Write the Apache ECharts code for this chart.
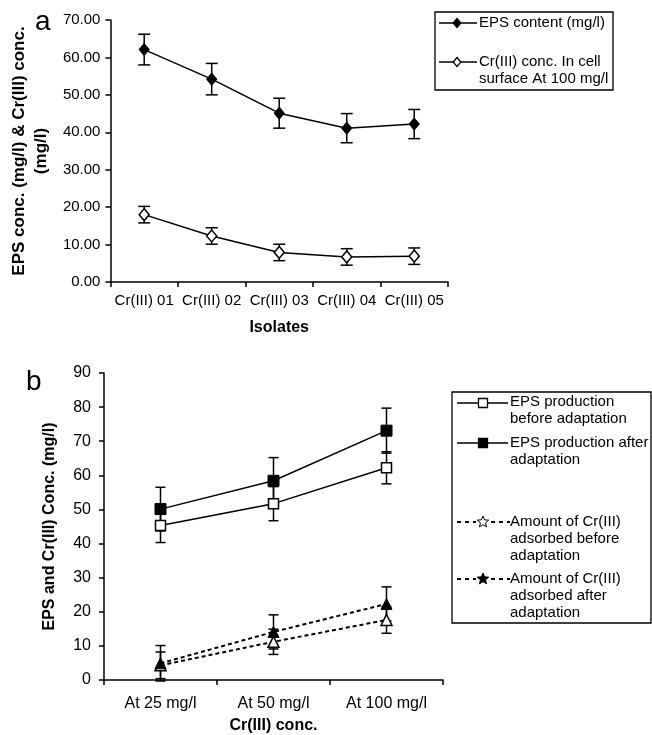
<!DOCTYPE html>
<html>
<head>
<meta charset="utf-8">
<script src="https://cdn.jsdelivr.net/npm/echarts@6/dist/echarts.min.js"></script>
<style>
html,body{margin:0;padding:0;background:#fff;}
#c{width:652px;height:735px;}
</style>
</head>
<body>
<div id="c"></div>
<script>
// ---- Panel a data ----
const isolates = ['Cr(III) 01', 'Cr(III) 02', 'Cr(III) 03', 'Cr(III) 04', 'Cr(III) 05'];
const epsContent = [62.1, 54.2, 45.1, 41.1, 42.2];
const epsContentErr = [4.1, 4.2, 4.0, 3.9, 3.9];
const crSurface = [18.0, 12.3, 7.9, 6.7, 6.9];
const crSurfaceErr = [2.2, 2.2, 2.2, 2.2, 2.2];
const yTicksA = { min: 0, max: 70, interval: 10 };

// ---- Panel b data ----
const concLevels = ['At 25 mg/l', 'At 50 mg/l', 'At 100 mg/l'];
const epsBefore = [45.3, 51.7, 62.2];
const epsBeforeErr = [5.0, 5.0, 4.7];
const epsAfter = [50.1, 58.4, 73.1];
const epsAfterErr = [6.4, 6.8, 6.6];
const crBefore = [4.3, 11.2, 17.6];
const crBeforeErr = [3.9, 3.7, 3.9];
const crAfter = [4.9, 14.1, 22.3];
const crAfterErr = [5.2, 5.0, 5.0];
const yTicksB = { min: 0, max: 90, interval: 10 };

const FONT = "'Liberation Sans', Arial, sans-serif";
const BLACK = '#000';

function errData(vals, errs) { return vals.map((v, i) => [i, v - errs[i], v + errs[i]]); }
function errRender(capHalf) {
  return function (params, api) {
    const x = api.value(0);
    const lo = api.coord([x, api.value(1)]);
    const hi = api.coord([x, api.value(2)]);
    const st = { stroke: BLACK, lineWidth: 1.5 };
    return {
      type: 'group',
      children: [
        { type: 'line', shape: { x1: lo[0], y1: lo[1], x2: hi[0], y2: hi[1] }, style: st },
        { type: 'line', shape: { x1: lo[0] - capHalf, y1: lo[1], x2: lo[0] + capHalf, y2: lo[1] }, style: st },
        { type: 'line', shape: { x1: hi[0] - capHalf, y1: hi[1], x2: hi[0] + capHalf, y2: hi[1] }, style: st }
      ]
    };
  };
}
function errSeries(idx, vals, errs, cap) {
  return {
    type: 'custom', xAxisIndex: idx, yAxisIndex: idx, z: 1,
    renderItem: errRender(cap), data: errData(vals, errs),
    encode: { x: 0, y: [1, 2] }, silent: true
  };
}

const axisLineStyle = { lineStyle: { color: BLACK, width: 1.5 } };
const tickStyle = { show: true, inside: false, length: 5, lineStyle: { color: BLACK, width: 1.5 } };

const chart = echarts.init(document.getElementById('c'), null, { renderer: 'canvas' });

// legend helpers (graphic)
function diamond(cx, cy, r, fill) {
  return { type: 'polygon', shape: { points: [[cx, cy - r], [cx + r * 0.85, cy], [cx, cy + r], [cx - r * 0.85, cy]] }, style: { fill: fill, stroke: BLACK, lineWidth: 1.3 }, z: 12 };
}
function square(cx, cy, s, fill) {
  return { type: 'rect', shape: { x: cx - s / 2, y: cy - s / 2, width: s, height: s }, style: { fill: fill, stroke: BLACK, lineWidth: 1.3 }, z: 12 };
}
function star(cx, cy, r, fill) {
  const pts = [];
  for (let k = 0; k < 10; k++) {
    const rr = k % 2 === 0 ? r : r * 0.45;
    const a = -Math.PI / 2 + k * Math.PI / 5;
    pts.push([cx + rr * Math.cos(a), cy + rr * Math.sin(a)]);
  }
  return { type: 'polygon', shape: { points: pts }, style: { fill: fill, stroke: BLACK, lineWidth: 1 }, z: 12 };
}
function hline(x1, x2, y, dash) {
  return { type: 'line', shape: { x1: x1, y1: y, x2: x2, y2: y }, style: { stroke: BLACK, lineWidth: dash ? 2 : 1.3, lineDash: dash ? [4, 4] : null }, z: 11 };
}
function txt(x, y, s, size) {
  return { type: 'text', x: x, y: y, style: { text: s, font: size + 'px ' + FONT, fill: BLACK, lineHeight: 17, verticalAlign: 'top', align: 'left' }, z: 12 };
}

const graphics = [
  { type: 'text', x: 35, y: 8, style: { text: 'a', font: '28px ' + FONT, fill: BLACK }, z: 12 },
  { type: 'text', x: 26, y: 368, style: { text: 'b', font: '28px ' + FONT, fill: BLACK }, z: 12 },
  // legend a
  { type: 'rect', shape: { x: 435, y: 12, width: 178, height: 78 }, style: { fill: '#fff', stroke: BLACK, lineWidth: 1.3 }, z: 10 },
  hline(439, 477, 23, false), diamond(457, 23, 4.5, BLACK),
  txt(479, 14, 'EPS content (mg/l)', 15),
  hline(439, 477, 62, false), diamond(457, 62, 4.5, '#fff'),
  txt(479, 53, 'Cr(III) conc. In cell\nsurface At 100 mg/l', 15),
  // legend b
  { type: 'rect', shape: { x: 452, y: 392, width: 199, height: 231 }, style: { fill: '#fff', stroke: BLACK, lineWidth: 1.3 }, z: 10 },
  hline(457, 508, 403, false), square(483, 403, 9, '#fff'),
  txt(510, 393, 'EPS production\nbefore adaptation', 15),
  hline(457, 508, 443, false), square(483, 443, 9, BLACK),
  txt(510, 434, 'EPS production after\nadaptation', 15),
  hline(457, 476, 522, true), hline(491, 510, 522, true), star(483, 522, 6, '#fff'),
  txt(510, 513, 'Amount of Cr(III)\nadsorbed before\nadaptation', 15),
  hline(457, 476, 579, true), hline(491, 510, 579, true), star(483, 579, 6, BLACK),
  txt(510, 570, 'Amount of Cr(III)\nadsorbed after\nadaptation', 15)
];

const option = {
  animation: false,
  backgroundColor: '#fff',
  textStyle: { fontFamily: FONT, color: BLACK },
  grid: [
    { left: 103, top: 20, width: 345, height: 262 },
    { left: 104, top: 373, width: 339, height: 307 }
  ],
  xAxis: [
    {
      type: 'category', gridIndex: 0, data: isolates, boundaryGap: true,
      axisLine: axisLineStyle, axisTick: tickStyle,
      axisLabel: { color: BLACK, fontSize: 15, margin: 11, fontFamily: FONT, interval: 0, hideOverlap: false },
      name: 'Isolates', nameLocation: 'middle', nameGap: 38,
      nameTextStyle: { fontSize: 16, fontWeight: 'bold', color: BLACK, fontFamily: FONT },
      splitLine: { show: false }
    },
    {
      type: 'category', gridIndex: 1, data: concLevels, boundaryGap: true,
      axisLine: axisLineStyle, axisTick: tickStyle,
      axisLabel: { color: BLACK, fontSize: 16, margin: 16, fontFamily: FONT, interval: 0, hideOverlap: false },
      name: 'Cr(III) conc.', nameLocation: 'middle', nameGap: 38,
      nameTextStyle: { fontSize: 16, fontWeight: 'bold', color: BLACK, fontFamily: FONT },
      splitLine: { show: false }
    }
  ],
  yAxis: [
    {
      type: 'value', gridIndex: 0, min: yTicksA.min, max: yTicksA.max, interval: yTicksA.interval,
      axisLine: Object.assign({ show: true }, axisLineStyle), axisTick: tickStyle,
      axisLabel: { color: BLACK, fontSize: 15, margin: 10, fontFamily: FONT, formatter: v => v.toFixed(2) },
      splitLine: { show: false },
      name: 'EPS conc. (mg/l) & Cr(III) conc.\n(mg/l)', nameLocation: 'middle', nameGap: 52, nameRotate: 90,
      nameTextStyle: { fontSize: 17, fontWeight: 'bold', color: BLACK, fontFamily: FONT, lineHeight: 22, align: 'center' }
    },
    {
      type: 'value', gridIndex: 1, min: yTicksB.min, max: yTicksB.max, interval: yTicksB.interval,
      axisLine: Object.assign({ show: true }, axisLineStyle), axisTick: tickStyle,
      axisLabel: { color: BLACK, fontSize: 16, margin: 13, fontFamily: FONT },
      splitLine: { show: false },
      name: 'EPS and Cr(III) Conc. (mg/l)', nameLocation: 'middle', nameGap: 46, nameRotate: 90,
      nameTextStyle: { fontSize: 16, fontWeight: 'bold', color: BLACK, fontFamily: FONT }
    }
  ],
  series: [
    errSeries(0, epsContent, epsContentErr, 6),
    errSeries(0, crSurface, crSurfaceErr, 6),
    {
      name: 'EPS content (mg/l)', type: 'line', xAxisIndex: 0, yAxisIndex: 0, z: 3,
      data: epsContent, symbol: 'diamond', symbolSize: [10, 12],
      lineStyle: { color: BLACK, width: 1.5 }, itemStyle: { color: BLACK, borderColor: BLACK, borderWidth: 1 }
    },
    {
      name: 'Cr(III) conc. In cell surface At 100 mg/l', type: 'line', xAxisIndex: 0, yAxisIndex: 0, z: 3,
      data: crSurface, symbol: 'diamond', symbolSize: [10, 12],
      lineStyle: { color: BLACK, width: 1.5 }, itemStyle: { color: '#fff', borderColor: BLACK, borderWidth: 1.5 }
    },
    errSeries(1, epsBefore, epsBeforeErr, 5),
    errSeries(1, epsAfter, epsAfterErr, 5),
    errSeries(1, crBefore, crBeforeErr, 5),
    errSeries(1, crAfter, crAfterErr, 5),
    {
      name: 'EPS production before adaptation', type: 'line', xAxisIndex: 1, yAxisIndex: 1, z: 3,
      data: epsBefore, symbol: 'rect', symbolSize: 10,
      lineStyle: { color: BLACK, width: 1.5 }, itemStyle: { color: '#fff', borderColor: BLACK, borderWidth: 1.5 }
    },
    {
      name: 'EPS production after adaptation', type: 'line', xAxisIndex: 1, yAxisIndex: 1, z: 3,
      data: epsAfter, symbol: 'rect', symbolSize: 11,
      lineStyle: { color: BLACK, width: 1.5 }, itemStyle: { color: BLACK, borderColor: BLACK, borderWidth: 1 }
    },
    {
      name: 'Amount of Cr(III) adsorbed before adaptation', type: 'line', xAxisIndex: 1, yAxisIndex: 1, z: 3,
      data: crBefore, symbol: 'triangle', symbolSize: 11,
      lineStyle: { color: BLACK, width: 2, type: [4, 3] }, itemStyle: { color: '#fff', borderColor: BLACK, borderWidth: 1.5 }
    },
    {
      name: 'Amount of Cr(III) adsorbed after adaptation', type: 'line', xAxisIndex: 1, yAxisIndex: 1, z: 3,
      data: crAfter, symbol: 'triangle', symbolSize: 11,
      lineStyle: { color: BLACK, width: 2, type: [4, 3] }, itemStyle: { color: BLACK, borderColor: BLACK, borderWidth: 1 }
    }
  ],
  graphic: graphics
};
chart.setOption(option);
</script>
</body>
</html>
